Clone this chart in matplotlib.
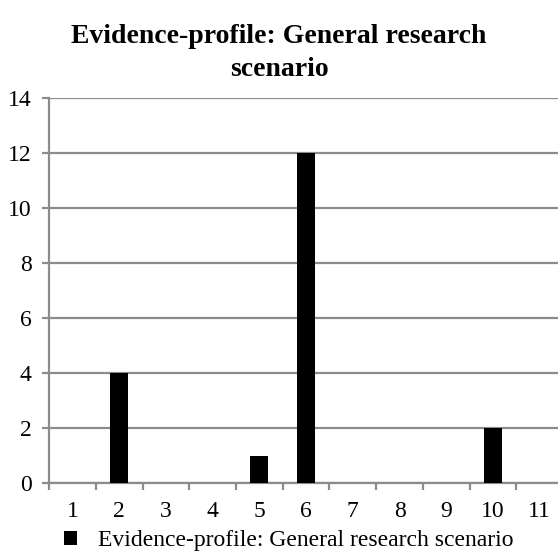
import matplotlib
matplotlib.use("Agg")
import matplotlib.pyplot as plt
import numpy as np

categories = [1, 2, 3, 4, 5, 6, 7, 8, 9, 10, 11]
values = [0, 4, 0, 0, 1, 12, 0, 0, 0, 2, 0]
series_name = "Evidence-profile: General research scenario"
title = "Evidence-profile: General research\nscenario"

plt.rcParams['font.family'] = ['Liberation Serif', 'DejaVu Serif']

fig = plt.figure(figsize=(5.58, 5.6), dpi=100)
ax = fig.add_axes([0.088, 0.1375, 0.921, 0.6875])

grey = '#8c8c8c'
ax.bar(categories, values, width=0.39, color='black', label=series_name, zorder=3)

ax.set_xlim(0.5, 11.5)
ax.set_ylim(0, 14)
ax.set_yticks(np.arange(0, 15, 2))
ax.yaxis.grid(True, color=grey, linewidth=1.6, zorder=0)
ax.set_axisbelow(True)

ax.set_xticks(categories)
ax.set_xticks(np.arange(0.5, 11.6, 1), minor=True)
ax.tick_params(axis='x', which='major', length=0, pad=13, labelsize=17)
ax.tick_params(axis='x', which='minor', length=5, width=1.6, color=grey, direction='out')
ax.tick_params(axis='y', length=5, width=1.6, color=grey, labelsize=17, pad=7.5)

for s in ['top', 'right']:
    ax.spines[s].set_visible(False)
for s in ['left', 'bottom']:
    ax.spines[s].set_color(grey)
    ax.spines[s].set_linewidth(1.6)

fig.text(0.5, 0.905, title, ha='center', va='center', fontsize=20,
         fontweight='bold', linespacing=1.4)

leg = fig.legend(loc='center left', bbox_to_anchor=(0.114, 0.034), frameon=False,
                 fontsize=17, handlelength=0.55, handleheight=0.55, handletextpad=0.9,
                 borderaxespad=0, borderpad=0)

fig.savefig("out.png", dpi=100)
